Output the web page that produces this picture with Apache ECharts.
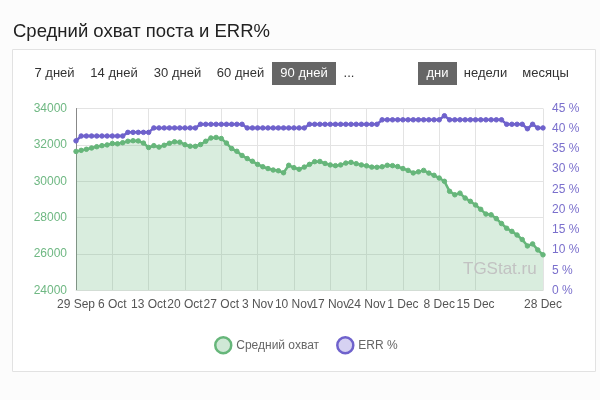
<!DOCTYPE html>
<html><head><meta charset="utf-8">
<script src="https://cdn.jsdelivr.net/npm/echarts@6/dist/echarts.min.js"></script>
<style>html,body{margin:0;padding:0;background:#fcfcfc}#c{width:600px;height:400px}</style>
</head><body><div id="c"></div>
<script>
const categories = ["29 Sep","30 Sep",
"1 Oct","2 Oct","3 Oct","4 Oct","5 Oct","6 Oct","7 Oct","8 Oct","9 Oct","10 Oct","11 Oct","12 Oct","13 Oct","14 Oct","15 Oct","16 Oct","17 Oct","18 Oct","19 Oct","20 Oct","21 Oct","22 Oct","23 Oct","24 Oct","25 Oct","26 Oct","27 Oct","28 Oct","29 Oct","30 Oct","31 Oct",
"1 Nov","2 Nov","3 Nov","4 Nov","5 Nov","6 Nov","7 Nov","8 Nov","9 Nov","10 Nov","11 Nov","12 Nov","13 Nov","14 Nov","15 Nov","16 Nov","17 Nov","18 Nov","19 Nov","20 Nov","21 Nov","22 Nov","23 Nov","24 Nov","25 Nov","26 Nov","27 Nov","28 Nov","29 Nov","30 Nov",
"1 Dec","2 Dec","3 Dec","4 Dec","5 Dec","6 Dec","7 Dec","8 Dec","9 Dec","10 Dec","11 Dec","12 Dec","13 Dec","14 Dec","15 Dec","16 Dec","17 Dec","18 Dec","19 Dec","20 Dec","21 Dec","22 Dec","23 Dec","24 Dec","25 Dec","26 Dec","27 Dec","28 Dec"];
const shownLabels = ["29 Sep","6 Oct","13 Oct","20 Oct","27 Oct","3 Nov","10 Nov","17 Nov","24 Nov","1 Dec","8 Dec","15 Dec","28 Dec"];
const reach = [31640,31700,31760,31830,31900,31960,32000,32080,32060,32120,
32200,32230,32220,32100,31860,31960,31880,31980,32090,32170,
32150,32010,31930,31920,32020,32200,32380,32410,32350,32100,
31800,31650,31420,31250,31100,30930,30800,30700,30620,30580,
30470,30880,30750,30660,30780,30930,31080,31090,30980,30900,
30860,30900,31000,31040,30970,30900,30850,30780,30770,30800,
30880,30860,30810,30700,30600,30460,30520,30600,30450,30330,
30180,30000,29450,29260,29350,29080,28900,28700,28460,28200,
28160,27950,27680,27420,27250,27050,26800,26450,26560,26230,25960];
const err = [37.0,
38.2,38.2,38.2,38.2,38.2,38.2,38.2,38.2,38.2,
39.1,39.1,39.1,39.1,39.1,
40.2,40.2,40.2,40.2,40.2,40.2,40.2,40.2,40.2,
41.1,41.1,41.1,41.1,41.1,41.1,41.1,41.1,41.1,
40.2,40.2,40.2,40.2,40.2,40.2,40.2,40.2,40.2,40.2,40.2,40.2,
41.1,41.1,41.1,41.1,41.1,41.1,41.1,41.1,41.1,41.1,41.1,41.1,41.1,41.1,
42.2,42.2,42.2,42.2,42.2,42.2,42.2,42.2,42.2,42.2,42.2,42.2,
43.2,
42.2,42.2,42.2,42.2,42.2,42.2,42.2,42.2,42.2,42.2,42.2,
41.1,41.1,41.1,41.1,
40.0,41.1,40.2,40.2];
const periodButtons = ["7 дней","14 дней","30 дней","60 дней","90 дней","..."];
const unitButtons = ["дни","недели","месяцы"];

const GREEN = '#66b67a', GREEN_FILL = 'rgba(102,182,122,0.36)', GREEN_PT = '#cfe8d6';
const PURPLE = '#6f62cc', PURPLE_PT = '#d6d2f2';
const FONT = '"Liberation Sans", Arial, sans-serif';

const showLabel = (i, v) => shownLabels.indexOf(categories[i]) >= 0;

const chart = echarts.init(document.getElementById('c'), null, {renderer:'canvas'});

const btnPos = [[35,74],[91,137],[154,201],[217,264],[272,336],[344,354]];
const unitPos = [[418,457],[464,507],[522,569]];
const graphics = [
  {type:'rect', shape:{x:12.5,y:49.5,width:583,height:322}, style:{fill:'#fff',stroke:'#e2e2e2',lineWidth:1}, z:-10, silent:true},
  {type:'text', left:13, top:22, style:{text:'Средний охват поста и ERR%', font:'18.5px '+FONT, fill:'#222'}},
  {type:'text', left:463, top:261, style:{text:'TGStat.ru', font:'17px '+FONT, fill:'#c2c2c2'}, z:5}
];
periodButtons.forEach((t,i)=>{
  const [a,b] = btnPos[i];
  const active = t === '90 дней';
  if (active) graphics.push({type:'rect', shape:{x:a,y:62,width:b-a,height:23}, style:{fill:'#666'}});
  graphics.push({type:'text', x:(a+b)/2, y:73.5, style:{text:t, font:'13px '+FONT, fill: active?'#fff':'#333', align:'center', verticalAlign:'middle'}});
});
unitButtons.forEach((t,i)=>{
  const [a,b] = unitPos[i];
  const active = t === 'дни';
  if (active) graphics.push({type:'rect', shape:{x:a,y:62,width:b-a,height:23}, style:{fill:'#666'}});
  graphics.push({type:'text', x:(a+b)/2, y:73.5, style:{text:t, font:'13px '+FONT, fill: active?'#fff':'#333', align:'center', verticalAlign:'middle'}});
});

chart.setOption({
  animation:false,
  textStyle:{fontFamily:FONT},
  graphic: graphics,
  grid:{left:76, right:57, top:108.5, bottom:109.5},
  legend:{
    top:331, left:209, itemWidth:16, itemHeight:16, itemGap:17,
    textStyle:{color:'#666', fontSize:12, fontFamily:FONT},
    data:[
      {name:'Средний охват', icon:'circle', itemStyle:{color:GREEN_PT, borderColor:GREEN, borderWidth:2.5}},
      {name:'ERR %', icon:'circle', itemStyle:{color:PURPLE_PT, borderColor:PURPLE, borderWidth:2.5}}
    ]
  },
  xAxis:{
    type:'category', data:categories, boundaryGap:false,
    axisLine:{show:true, lineStyle:{color:'#e3e3e3'}},
    axisTick:{show:false},
    axisLabel:{interval:showLabel, color:'#555', fontSize:12, margin:8, fontFamily:FONT},
    splitLine:{show:true, interval:showLabel, lineStyle:{color:'#e3e3e3'}}
  },
  yAxis:[
    {type:'value', min:24000, max:34000, interval:2000,
     axisLine:{show:true, lineStyle:{color:'#888'}}, axisTick:{show:false},
     axisLabel:{color:'#6fb883', fontSize:12, margin:9, fontFamily:FONT, formatter:(v)=>String(v)},
     splitLine:{lineStyle:{color:'#e3e3e3'}}},
    {type:'value', min:0, max:45, interval:5, position:'right',
     axisLine:{show:false}, axisTick:{show:false},
     axisLabel:{color:'#7a6fcc', fontSize:12, margin:9, formatter:'{value} %', fontFamily:FONT},
     splitLine:{show:false}}
  ],
  series:[
    {name:'Средний охват', type:'line', yAxisIndex:0, data:reach,
     symbol:'circle', symbolSize:4.5, showSymbol:true, showAllSymbol:true,
     lineStyle:{color:GREEN, width:2.5},
     itemStyle:{color:GREEN, borderColor:GREEN, borderWidth:1},
     areaStyle:{color:GREEN_FILL}, z:2},
    {name:'ERR %', type:'line', yAxisIndex:1, data:err,
     symbol:'circle', symbolSize:4.5, showSymbol:true, showAllSymbol:true,
     lineStyle:{color:PURPLE, width:2.5},
     itemStyle:{color:PURPLE, borderColor:PURPLE, borderWidth:1}, z:3}
  ]
});
</script></body></html>
